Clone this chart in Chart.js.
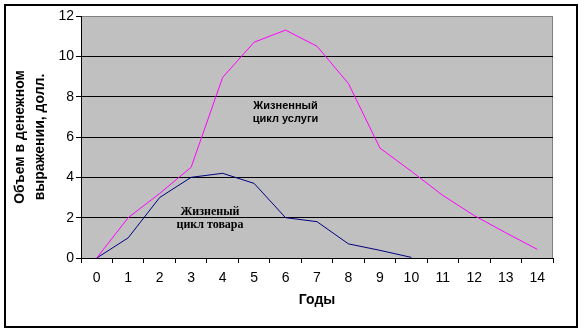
<!DOCTYPE html>
<html lang="ru">
<head>
  <meta charset="UTF-8">
  <title>Жизненный цикл товара и услуги</title>
  <style>
    html, body { margin: 0; padding: 0; background: #fff; }
    canvas { display: block; }
  </style>
</head>
<body>

  <canvas id="grafico" width="588" height="331"></canvas>

  <script src="https://cdn.jsdelivr.net/npm/chart.js"></script>

  <script>
    // Годы и объёмы (долл.)
    const anos = ['0', '1', '2', '3', '4', '5', '6', '7', '8', '9', '10', '11', '12', '13', '14'];
    const usluga = [0, 2.0, 3.2, 4.5, 8.95, 10.7, 11.3, 10.5, 8.65, 5.45, 4.3, 3.1, 2.1, 1.25, 0.43];
    const tovar = [0, 1.0, 3.0, 4.0, 4.2, 3.7, 2.0, 1.8, 0.7, 0.38, 0.03];
    const yTicks = [0, 2, 4, 6, 8, 10, 12];

    const fuente = "'Liberation Sans', Arial, sans-serif";

    // Фон, рамка и подписи кривых
    const marco = {
      id: 'marco',
      beforeDraw(chart) {
        const { ctx, chartArea: a } = chart;
        ctx.save();
        ctx.fillStyle = '#fff';
        ctx.fillRect(0, 0, chart.width, chart.height);
        ctx.strokeStyle = '#000';
        ctx.lineWidth = 2;
        ctx.strokeRect(5, 5, 572, 322);
        ctx.fillStyle = '#c0c0c0';
        ctx.fillRect(a.left, a.top, a.right - a.left, a.bottom - a.top);
        ctx.strokeStyle = '#808080';
        ctx.lineWidth = 1;
        ctx.strokeRect(a.left + 0.5, a.top + 0.5, a.right - a.left - 1, a.bottom - a.top);
        ctx.restore();
      },
      afterDatasetsDraw(chart) {
        const { ctx, scales } = chart;
        ctx.save();
        ctx.fillStyle = '#000';
        ctx.textAlign = 'center';
        ctx.textBaseline = 'middle';

        ctx.font = "bold 11px " + fuente;
        let x = scales.x.getPixelForValue(6.0);
        ctx.fillText('Жизненный', x, scales.y.getPixelForValue(7.55));
        ctx.fillText('цикл услуги', x, scales.y.getPixelForValue(6.9));

        ctx.font = "bold 12px 'Liberation Serif', 'Times New Roman', serif";
        x = scales.x.getPixelForValue(3.6);
        ctx.fillText('Жизненый', x, scales.y.getPixelForValue(2.3));
        ctx.fillText('цикл товара', x, scales.y.getPixelForValue(1.65));
        ctx.restore();
      }
    };

    const lienzo = document.querySelector('#grafico');

    new Chart(lienzo, {
      type: 'line',
      data: {
        labels: anos,
        datasets: [
          {
            label: 'Жизненный цикл услуги',
            data: usluga,
            borderColor: '#ff00ff',
            borderWidth: 1,
            pointRadius: 0,
            tension: 0
          },
          {
            label: 'Жизненный цикл товара',
            data: tovar,
            borderColor: '#000080',
            borderWidth: 1,
            pointRadius: 0,
            tension: 0
          }
        ]
      },
      options: {
        responsive: false,
        animation: false,
        events: [],
        layout: { padding: { left: 0, top: 16, right: 35, bottom: 0 } },
        plugins: {
          legend: { display: false },
          tooltip: { enabled: false }
        },
        scales: {
          x: {
            offset: true,
            grid: {
              offset: true,
              drawOnChartArea: false,
              drawTicks: true,
              tickLength: 5,
              color: '#000'
            },
            border: { color: '#000', width: 1 },
            ticks: {
              color: '#000',
              padding: 7,
              maxRotation: 0,
              autoSkip: false,
              font: { family: fuente, size: 14 }
            },
            title: {
              display: true,
              text: 'Годы',
              color: '#000',
              padding: { top: 0, bottom: 22 },
              font: { family: fuente, size: 14, weight: 'bold' }
            },
            afterFit(scale) { scale.height = 73; }
          },
          y: {
            min: 0,
            max: 12,
            afterBuildTicks(scale) { scale.ticks = yTicks.map(v => ({ value: v })); },
            grid: {
              color: c => (c.tick && c.tick.value === 12 ? '#808080' : '#000'),
              tickColor: '#000',
              tickLength: 5,
              lineWidth: 1
            },
            border: { color: '#000', width: 1 },
            ticks: {
              color: '#000',
              padding: 2,
              font: { family: fuente, size: 14 }
            },
            title: {
              display: true,
              text: ['Объем в денежном', 'выражении, долл.'],
              color: '#000',
              padding: { top: 10, bottom: 0 },
              font: { family: fuente, size: 14, weight: 'bold', lineHeight: '20px' }
            },
            afterFit(scale) { scale.width = 81; }
          }
        }
      },
      plugins: [marco]
    });
  </script>

</body>
</html>
